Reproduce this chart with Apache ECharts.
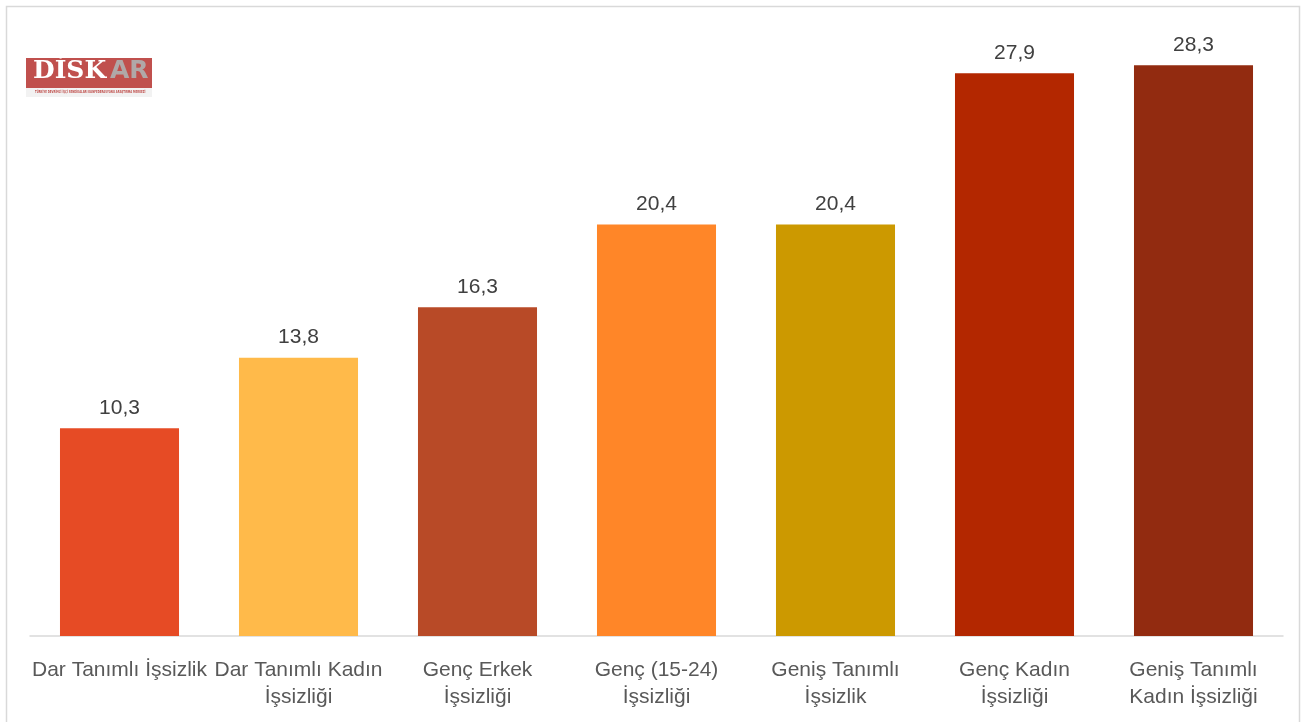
<!DOCTYPE html>
<html>
<head>
<meta charset="utf-8">
<script src="https://cdn.jsdelivr.net/npm/echarts@6/dist/echarts.min.js"></script>
<style>html,body{margin:0;padding:0;background:#fff;}#c{width:1301px;height:722px;}</style>
</head>
<body>
<div id="c"></div>
<script>
var categories = ['Dar Tanımlı İşsizlik', 'Dar Tanımlı Kadın\nİşsizliği', 'Genç Erkek\nİşsizliği', 'Genç (15-24)\nİşsizliği', 'Geniş Tanımlı\nİşsizlik', 'Genç Kadın\nİşsizliği', 'Geniş Tanımlı\nKadın İşsizliği'];
var values = [10.3, 13.8, 16.3, 20.4, 20.4, 27.9, 28.3];
var colors = ['#E64B25', '#FFBA4A', '#B84A27', '#FF8628', '#CC9900', '#B32700', '#922B10'];

var chart = echarts.init(document.getElementById('c'));
chart.setOption({
  animation: false,
  grid: { left: 30, right: 18, top: 31, bottom: 86, containLabel: false },
  xAxis: {
    type: 'category',
    data: categories,
    axisTick: { show: false },
    axisLine: { lineStyle: { color: '#D9D9D9', width: 1.5 } },
    axisLabel: { interval: 0, color: '#595959', fontFamily: 'Liberation Sans', fontSize: 21, lineHeight: 27, margin: 21 }
  },
  yAxis: { type: 'value', min: 0, max: 30, show: false, splitLine: { show: false } },
  series: [{
    type: 'bar',
    barWidth: '66.5%',
    data: values.map(function (v, i) { return { value: v, itemStyle: { color: colors[i] } }; }),
    label: {
      show: true, position: 'top', distance: 10, color: '#404040',
      fontFamily: 'Liberation Sans', fontSize: 21,
      formatter: function (p) { return p.value.toFixed(1).replace('.', ','); }
    }
  }],
  graphic: [
    { type: 'rect', shape: { x: 6.5, y: 6.5, width: 1293, height: 730 }, style: { fill: 'none', stroke: '#D9D9D9', lineWidth: 1.5 }, silent: true },
    { type: 'rect', shape: { x: 26, y: 58, width: 126, height: 30 }, style: { fill: '#C0504D' } },
    { type: 'rect', shape: { x: 26, y: 88, width: 126, height: 9 }, style: { fill: '#F2F2F2' } },
    { type: 'text', x: 33, y: 59, style: { text: 'DİSK', fill: '#FFFFFF', font: 'bold 25px "DejaVu Serif"' } },
    { type: 'text', x: 110, y: 59, style: { text: 'AR', fill: '#B0A8A8', font: 'bold 25px "DejaVu Sans"' } },
    { type: 'text', x: 35, y: 90, scaleX: 0.62, style: { text: 'TÜRKİYE DEVRİMCİ İŞÇİ SENDİKALARI KONFEDERASYONU ARAŞTIRMA MERKEZİ', fill: '#C0504D', font: 'bold 4px "DejaVu Sans"' } }
  ]
});
</script>
</body>
</html>
